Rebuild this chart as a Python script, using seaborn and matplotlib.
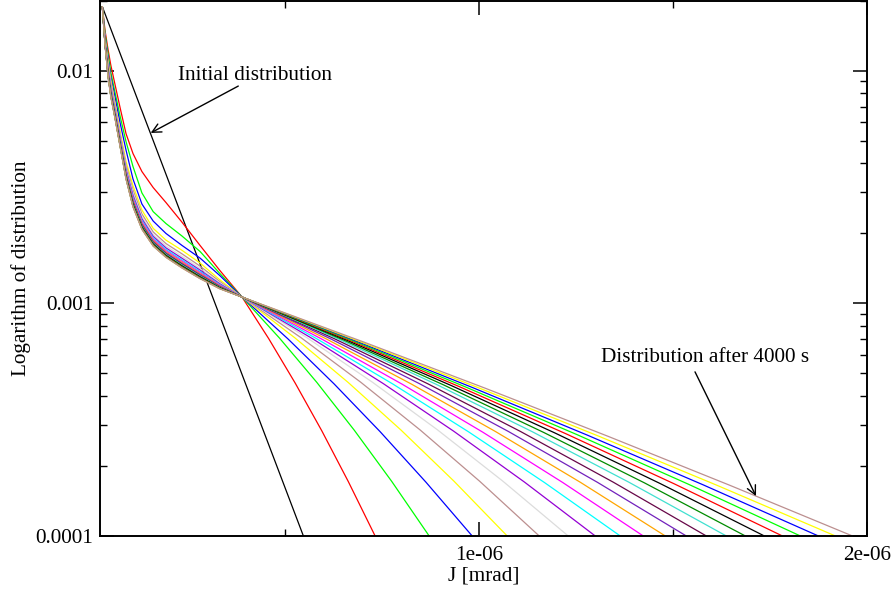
import matplotlib
matplotlib.use("Agg")
import matplotlib.pyplot as plt
import numpy as np
import pandas as pd
import seaborn as sns
from matplotlib.ticker import FixedLocator, FixedFormatter, LogLocator, NullFormatter

# Action values shared by every profile on the low-J side (units of 1e-6 mrad)
J_core = [0.030, 0.037, 0.045, 0.052, 0.063, 0.076, 0.091, 0.109, 0.132,
          0.161, 0.194, 0.235, 0.282, 0.333, 0.390]

# log10 of the distribution; one profile every 200 s
J_t0 = [0.030, 0.548]
lg_t0 = [-1.7247, -4.0000]

J_t200 = J_core + [0.4586, 0.5271, 0.5957, 0.6642, 0.7328]
lg_t200 = [-1.7247, -1.8280, -1.9118, -1.9776, -2.0619, -2.1609, -2.2705, -2.3561,
           -2.4336, -2.5024, -2.5669, -2.6508, -2.7518, -2.8594, -2.9733,
           -3.1517, -3.3435, -3.5488, -3.7677, -4.0000]

J_t400 = J_core + [0.4864, 0.5828, 0.6792, 0.7756, 0.8720]
lg_t400 = [-1.7247, -1.8409, -1.9312, -2.0077, -2.0959, -2.1970, -2.3045, -2.4120,
           -2.5256, -2.6060, -2.6572, -2.7105, -2.7776, -2.8723, -2.9733,
           -3.1495, -3.3403, -3.5457, -3.7655, -4.0000]

J_t600 = J_core + [0.5086, 0.6271, 0.7457, 0.8642, 0.9828]
lg_t600 = [-1.7247, -1.8508, -1.9475, -2.0249, -2.1161, -2.2258, -2.3411, -2.4658,
           -2.5733, -2.6465, -2.6998, -2.7510, -2.8060, -2.8813, -2.9733,
           -3.1536, -3.3465, -3.5518, -3.7697, -4.0000]

J_t800 = J_core + [0.5266, 0.6632, 0.7998, 0.9364, 1.0730]
lg_t800 = [-1.7247, -1.8594, -1.9604, -2.0400, -2.1432, -2.2615, -2.3897, -2.4946,
           -2.5991, -2.6779, -2.7286, -2.7720, -2.8271, -2.8994, -2.9733,
           -3.1493, -3.3400, -3.5454, -3.7653, -4.0000]

J_t1000 = J_core + [0.5431, 0.6962, 0.8493, 1.0024, 1.1555]
lg_t1000 = [-1.7247, -1.8654, -1.9742, -2.0546, -2.1561, -2.2748, -2.4049, -2.5129,
            -2.6158, -2.6932, -2.7435, -2.7872, -2.8406, -2.9071, -2.9733,
            -3.1493, -3.3399, -3.5452, -3.7653, -4.0000]

J_t1200 = J_core + [0.5580, 0.7261, 0.8941, 1.0622, 1.2302]
lg_t1200 = [-1.7247, -1.8696, -1.9838, -2.0649, -2.1651, -2.2842, -2.4156, -2.5257,
            -2.6275, -2.7039, -2.7539, -2.7979, -2.8500, -2.9126, -2.9733,
            -3.1490, -3.3395, -3.5448, -3.7650, -4.0000]

J_t1400 = J_core + [0.5720, 0.7539, 0.9359, 1.1178, 1.2998]
lg_t1400 = [-1.7247, -1.8729, -1.9914, -2.0729, -2.1722, -2.2915, -2.4239, -2.5358,
            -2.6367, -2.7123, -2.7621, -2.8063, -2.8575, -2.9168, -2.9733,
            -3.1528, -3.3453, -3.5506, -3.7688, -4.0000]

J_t1600 = J_core + [0.5848, 0.7797, 0.9745, 1.1694, 1.3642]
lg_t1600 = [-1.7247, -1.8757, -1.9976, -2.0795, -2.1780, -2.2975, -2.4308, -2.5441,
            -2.6442, -2.7192, -2.7688, -2.8131, -2.8635, -2.9203, -2.9733,
            -3.1548, -3.3483, -3.5536, -3.7708, -4.0000]

J_t1800 = J_core + [0.5967, 0.8034, 1.0101, 1.2168, 1.4235]
lg_t1800 = [-1.7247, -1.8778, -2.0024, -2.0846, -2.1825, -2.3022, -2.4361, -2.5505,
            -2.6500, -2.7246, -2.7740, -2.8185, -2.8683, -2.9230, -2.9733,
            -3.1551, -3.3487, -3.5540, -3.7711, -4.0000]

J_t2000 = J_core + [0.6080, 0.8261, 1.0441, 1.2622, 1.4802]
lg_t2000 = [-1.7247, -1.8799, -2.0073, -2.0897, -2.1871, -2.3069, -2.4414, -2.5569,
            -2.6559, -2.7299, -2.7792, -2.8238, -2.8730, -2.9257, -2.9733,
            -3.1541, -3.3471, -3.5524, -3.7701, -4.0000]

J_t2200 = J_core + [0.6189, 0.8477, 1.0766, 1.3054, 1.5343]
lg_t2200 = [-1.7247, -1.8817, -2.0114, -2.0941, -2.1909, -2.3109, -2.4460, -2.5624,
            -2.6609, -2.7345, -2.7837, -2.8284, -2.8770, -2.9280, -2.9733,
            -3.1534, -3.3461, -3.5514, -3.7694, -4.0000]

J_t2400 = J_core + [0.6292, 0.8684, 1.1075, 1.3467, 1.5859]
lg_t2400 = [-1.7247, -1.8832, -2.0148, -2.0977, -2.1942, -2.3142, -2.4498, -2.5670,
            -2.6651, -2.7383, -2.7874, -2.8322, -2.8804, -2.9300, -2.9733,
            -3.1533, -3.3459, -3.5512, -3.7693, -4.0000]

J_t2600 = J_core + [0.6395, 0.8890, 1.1384, 1.3879, 1.6374]
lg_t2600 = [-1.7247, -1.8844, -2.0176, -2.1007, -2.1967, -2.3169, -2.4529, -2.5706,
            -2.6684, -2.7414, -2.7904, -2.8352, -2.8831, -2.9315, -2.9733,
            -3.1543, -3.3474, -3.5527, -3.7703, -4.0000]

J_t2800 = J_core + [0.6493, 0.9086, 1.1678, 1.4271, 1.6864]
lg_t2800 = [-1.7247, -1.8856, -2.0203, -2.1036, -2.1993, -2.3195, -2.4559, -2.5743,
            -2.6717, -2.7445, -2.7933, -2.8383, -2.8858, -2.9331, -2.9733,
            -3.1563, -3.3504, -3.5558, -3.7723, -4.0000]

J_t3000 = J_core + [0.6591, 0.9282, 1.1972, 1.4663, 1.7354]
lg_t3000 = [-1.7247, -1.8865, -2.0224, -2.1058, -2.2012, -2.3215, -2.4582, -2.5770,
            -2.6742, -2.7467, -2.7956, -2.8406, -2.8878, -2.9342, -2.9733,
            -3.1581, -3.3531, -3.5584, -3.7741, -4.0000]

J_t3200 = J_core + [0.6684, 0.9467, 1.2251, 1.5034, 1.7818]
lg_t3200 = [-1.7247, -1.8874, -2.0245, -2.1080, -2.2032, -2.3235, -2.4605, -2.5798,
            -2.6768, -2.7490, -2.7978, -2.8429, -2.8899, -2.9354, -2.9733,
            -3.1601, -3.3561, -3.5614, -3.7761, -4.0000]

J_t3400 = J_core + [0.6776, 0.9652, 1.2529, 1.5405, 1.8281]
lg_t3400 = [-1.7247, -1.8881, -2.0262, -2.1098, -2.2048, -2.3252, -2.4624, -2.5821,
            -2.6788, -2.7510, -2.7997, -2.8448, -2.8916, -2.9364, -2.9733,
            -3.1622, -3.3593, -3.5646, -3.7782, -4.0000]

J_t3600 = J_core + [0.6869, 0.9838, 1.2807, 1.5776, 1.8745]
lg_t3600 = [-1.7247, -1.8887, -2.0276, -2.1113, -2.2061, -2.3265, -2.4639, -2.5839,
            -2.6805, -2.7525, -2.8011, -2.8463, -2.8929, -2.9371, -2.9733,
            -3.1642, -3.3623, -3.5676, -3.7802, -4.0000]

J_t3800 = J_core + [0.6957, 1.0014, 1.3070, 1.6127, 1.9184]
lg_t3800 = [-1.7247, -1.8892, -2.0286, -2.1124, -2.2071, -2.3275, -2.4650, -2.5853,
            -2.6818, -2.7536, -2.8023, -2.8474, -2.8939, -2.9377, -2.9733,
            -3.1658, -3.3647, -3.5700, -3.7818, -4.0000]

J_t4000 = J_core + [0.7044, 1.0189, 1.3333, 1.6478, 1.9622]
lg_t4000 = [-1.7247, -1.8895, -2.0293, -2.1131, -2.2077, -2.3282, -2.4658, -2.5862,
            -2.6826, -2.7544, -2.8030, -2.8482, -2.8946, -2.9381, -2.9733,
            -3.1672, -3.3667, -3.5721, -3.7832, -4.0000]

profiles = [
    ("0 s", J_t0, lg_t0), ("200 s", J_t200, lg_t200), ("400 s", J_t400, lg_t400),
    ("600 s", J_t600, lg_t600), ("800 s", J_t800, lg_t800), ("1000 s", J_t1000, lg_t1000),
    ("1200 s", J_t1200, lg_t1200), ("1400 s", J_t1400, lg_t1400), ("1600 s", J_t1600, lg_t1600),
    ("1800 s", J_t1800, lg_t1800), ("2000 s", J_t2000, lg_t2000), ("2200 s", J_t2200, lg_t2200),
    ("2400 s", J_t2400, lg_t2400), ("2600 s", J_t2600, lg_t2600), ("2800 s", J_t2800, lg_t2800),
    ("3000 s", J_t3000, lg_t3000), ("3200 s", J_t3200, lg_t3200), ("3400 s", J_t3400, lg_t3400),
    ("3600 s", J_t3600, lg_t3600), ("3800 s", J_t3800, lg_t3800), ("4000 s", J_t4000, lg_t4000),
]

# Grace default colour map, cycled over the profiles
grace_colors = ["#000000", "#ff0000", "#00ff00", "#0000ff", "#ffff00", "#bc8f8f",
                "#dcdcdc", "#9400d3", "#00ffff", "#ff00ff", "#ffa500", "#7221bc",
                "#670748", "#40e0d0", "#008b00"]

y_ticks = [1e-4, 1e-3, 1e-2]
y_tick_labels = ["0.0001", "0.001", "0.01"]
x_ticks = [1e-6, 2e-6]
x_tick_labels = ["1e-06", "2e-06"]

rows = []
for name, J, lg in profiles:
    for j, v in zip(J, lg):
        rows.append({"J": j * 1e-6, "f": 10.0 ** v, "profile": name})
df = pd.DataFrame(rows)
names = [p[0] for p in profiles]
palette = {n: grace_colors[i % len(grace_colors)] for i, n in enumerate(names)}

sns.set_style("ticks")
plt.rcParams["font.family"] = ["Liberation Serif", "DejaVu Serif"]
plt.rcParams["axes.linewidth"] = 1.4
plt.rcParams["text.color"] = "black"
plt.rcParams["axes.labelcolor"] = "black"
plt.rcParams["xtick.color"] = "black"
plt.rcParams["ytick.color"] = "black"

fig = plt.figure(figsize=(8.93, 5.90), dpi=100)
ax = fig.add_axes([100.4 / 893, 1 - 535.8 / 590, 766.3 / 893, 535.1 / 590])

sns.lineplot(data=df, x="J", y="f", hue="profile", hue_order=names,
             palette=palette, estimator=None, legend=False, lw=0.9, ax=ax)

ax.set_yscale("log")
ax.set_xlim(0.025e-6, 2e-6)
ax.set_ylim(1e-4, 2e-2)

ax.yaxis.set_major_locator(FixedLocator(y_ticks))
ax.yaxis.set_major_formatter(FixedFormatter(y_tick_labels))
ax.yaxis.set_minor_locator(LogLocator(base=10, subs=np.arange(2, 10)))
ax.yaxis.set_minor_formatter(NullFormatter())
ax.xaxis.set_major_locator(FixedLocator(x_ticks))
ax.xaxis.set_major_formatter(FixedFormatter(x_tick_labels))
ax.xaxis.set_minor_locator(FixedLocator([0.5e-6, 1.5e-6]))

fs = 15.3
ax.tick_params(which="both", direction="in", top=True, right=True, labelsize=fs,
               color="black", labelcolor="black")
ax.tick_params(which="major", length=10, width=1.1)
ax.tick_params(which="minor", length=5, width=1.0)
ax.tick_params(axis="y", which="major", pad=5)
ax.tick_params(axis="x", which="major", pad=7.5)
for s in ax.spines.values():
    s.set_color("black")

ax.set_xlabel("J [mrad]", fontsize=fs, va="baseline", color="black")
ax.xaxis.set_label_coords(0.5, -44.2 / 535.1)
ax.set_ylabel("Logarithm of distribution", fontsize=fs, va="baseline",
              rotation_mode="anchor", color="black")
ax.yaxis.set_label_coords((26 - 100.4) / 766.3, 0.5)

arrow = dict(arrowstyle="->", lw=1.0, color="black", shrinkA=0, shrinkB=0,
             mutation_scale=16)
ax.text(0.4235e-6, 9.12e-3, "Initial distribution", fontsize=fs,
        ha="center", va="baseline", color="black")
ax.annotate("", xy=(0.1546e-6, 5.40e-3), xytext=(0.3804e-6, 8.59e-3),
            arrowprops=arrow)
ax.text(1.5825e-6, 5.60e-4, "Distribution after 4000 s", fontsize=fs,
        ha="center", va="baseline", color="black")
ax.annotate("", xy=(1.7147e-6, 1.482e-4), xytext=(1.5575e-6, 5.07e-4),
            arrowprops=arrow)

fig.savefig("out.png", dpi=100)
